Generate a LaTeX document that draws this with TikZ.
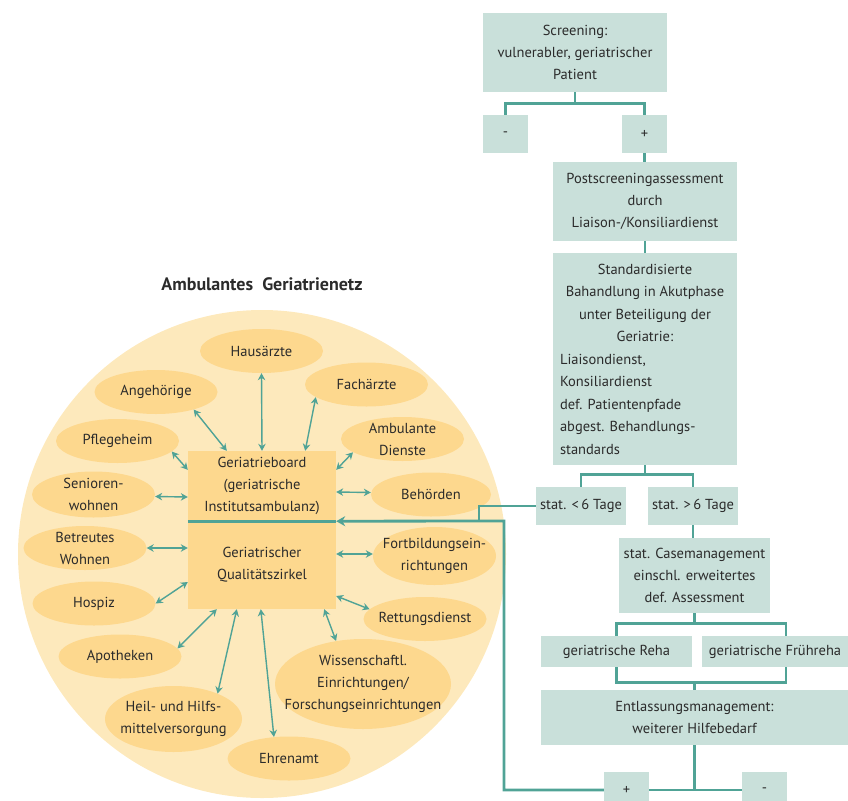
\documentclass[tikz,border=0pt]{standalone}
\usepackage{fontspec}
\setmainfont{PT Sans}
\usetikzlibrary{arrows.meta, shapes.geometric, calc}

\definecolor{netzhell}{HTML}{FDE9BC}
\definecolor{netzdunkel}{HTML}{FDD88E}
\definecolor{petrol}{HTML}{50A396}
\definecolor{mint}{HTML}{C9E0DA}
\definecolor{schrift}{HTML}{2B2B2B}

\begin{document}
\begin{tikzpicture}[
  x=1pt, y=-1pt,
  font=\fontsize{14.5}{22}\selectfont, text=schrift,
  schritt/.style={
    fill=mint, align=center, inner sep=0pt
  },
  zeichen/.style={
    fill=mint, inner sep=0pt, minimum width=45pt, minimum height=38pt
  },
  partner/.style={
    ellipse, fill=netzdunkel, align=center,
    inner xsep=-30pt, inner ysep=-8pt,
    minimum width=123pt, minimum height=44pt
  },
  zentrum/.style={
    fill=netzdunkel, align=center, inner sep=0pt, minimum width=148pt
  },
  fluss/.style={
    draw=petrol, line width=2.8pt
  },
  bezug/.style={
    {Stealth[length=7pt, width=7.5pt]}-{Stealth[length=7pt, width=7.5pt]},
    draw=petrol, line width=1.4pt
  }
]
\useasboundingbox (0,0) rectangle (848,800);

% ----- Ambulantes Geriatrienetz -----
\node[circle, fill=netzhell, inner sep=0pt, minimum size=488pt] (netz) at (262,554) {};
\node[font=\fontsize{18}{21}\selectfont\bfseries] (titel) at (262,284) {Ambulantes\ \ Geriatrienetz};

\node[zentrum, minimum height=70pt] (board) at (262,486)
  {Geriatrieboard\\(geriatrische\\Institutsambulanz)};
\node[zentrum, minimum height=88pt] (zirkel) at (262,565)
  {Geriatrischer\\Qualitätszirkel};

\node[partner] (haus)    at (261.5,351)   {Hausärzte};
\node[partner] (fach)    at (366.5,384.5) {Fachärzte};
\node[partner] (angeh)   at (156,392)     {Angehörige};
\node[partner] (pflege)  at (117.5,441)   {Pflegeheim};
\node[partner] (ambul)   at (402.5,439)   {Ambulante\\Dienste};
\node[partner, minimum height=46pt] (senior) at (93.5,494.5) {Senioren-\\wohnen};
\node[partner, minimum width=120pt] (behoerd) at (431,494.5) {Behörden};
\node[partner] (betreut) at (85,548)      {Betreutes\\Wohnen};
\node[partner, minimum height=58pt] (fortb) at (434.5,556) {Fortbildungsein-\\richtungen};
\node[partner] (hospiz)  at (94,603.5)    {Hospiz};
\node[partner] (rettung) at (425,619)     {Rettungsdienst};
\node[partner] (apoth)   at (120,656.5)   {Apotheken};
\node[partner, minimum width=137pt, minimum height=66pt] (heil) at (173.5,719)
  {Heil- und Hilfs-\\mittelversorgung};
\node[partner, minimum width=176pt, minimum height=90pt] (wiss) at (363,684)
  {Wissenschaftl.\\Einrichtungen/\\Forschungseinrichtungen};
\node[partner] (ehren)   at (289,758.5)   {Ehrenamt};

% Verbindungen zum Geriatrieboard
\draw[bezug] (haus.south) -- (board.north);
\draw[bezug] (fach.194) -- ([xshift=-31pt]board.north east);
\draw[bezug] (angeh.335) -- ([xshift=39pt]board.north west);
\draw[bezug] (pflege.349) -- ([yshift=-19pt]board.north west);
\draw[bezug] (ambul.195) -- ([yshift=-19pt]board.north east);
\draw[bezug] ([yshift=-2pt]senior.east) -- ([yshift=-11pt]board.west);
\draw[bezug] ([yshift=2pt]behoerd.west) -- ([yshift=-6pt]board.east);

% Verbindungen zum Qualitätszirkel
\draw[bezug] (betreut.east) -- ([yshift=17pt]zirkel.west);
\draw[bezug] ([yshift=2pt]fortb.west) -- ([yshift=11pt]zirkel.east);
\draw[bezug] (hospiz.east) -- ([yshift=-17pt]zirkel.west);
\draw[bezug] (rettung.170) -- ([yshift=-31pt]zirkel.east);
\draw[bezug] (apoth.8) -- ([xshift=29pt]zirkel.south west);
\draw[bezug] (heil.30) -- ([xshift=49pt]zirkel.south west);
\draw[bezug] (ehren.125) -- ([xshift=73pt]zirkel.south west);
\draw[bezug] (wiss.122) -- ([xshift=-12pt]zirkel.south east);

\draw[fluss] (board.south west) -- (board.south east);

% ----- Klinischer Pfad -----
\node[schritt, minimum width=184pt, minimum height=79pt] (screen) at (575,52.5)
  {Screening:\\vulnerabler, geriatrischer\\Patient};
\node[zeichen] (sneg) at (505.5,134) {-};
\node[zeichen] (spos) at (644.5,134) {+};
\node[schritt, minimum width=184pt, minimum height=79pt] (post) at (645,201.5)
  {Postscreeningassessment\\durch\\Liaison-/Konsiliardienst};
\node[schritt, minimum width=184pt, minimum height=212pt,
      font=\fontsize{14.5}{22.5}\selectfont] (std) at (645,359)
  {Standardisierte\\Bahandlung in Akutphase\\unter Beteiligung der\\Geriatrie:\\
   \makebox[170pt][l]{Liaisondienst,}\\
   \makebox[170pt][l]{Konsiliardienst}\\
   \makebox[170pt][l]{def. Patientenpfade}\\
   \makebox[170pt][l]{abgest. Behandlungs-}\\
   \makebox[170pt][l]{standards}};
\node[schritt, minimum width=90pt, minimum height=38pt] (kurz) at (581,506) {stat. <\,6 Tage};
\node[schritt, minimum width=90pt, minimum height=38pt] (lang) at (693,506) {stat. >\,6 Tage};
\node[schritt, minimum width=151pt, minimum height=75pt] (case) at (694.5,575.5)
  {stat. Casemanagement\\einschl. erweitertes\\def. Assessment};
\node[schritt, minimum width=151pt, minimum height=31pt] (reha) at (616.5,651.5)
  {geriatrische Reha};
\node[schritt, minimum width=146pt, minimum height=31pt] (frueh) at (775,651.5)
  {geriatrische Frühreha};
\node[schritt, minimum width=307pt, minimum height=55pt] (entl) at (694.5,717.5)
  {Entlassungsmanagement:\\weiterer Hilfebedarf};
\node[zeichen, minimum height=36pt] (epos) at (626.5,790) {+};
\node[zeichen, minimum height=36pt] (eneg) at (764.5,790) {-};

\draw[fluss] (screen.south) -- ++(0,11) -| (sneg.north);
\draw[fluss] (screen.south) ++(0,11) -| (spos.north);
\draw[fluss] (spos.south) -- (spos.south |- post.north);
\draw[fluss] (post.south) -- (post.south |- std.north);
\draw[fluss] (std.south) -- ++(0,9) -| (kurz.north);
\draw[fluss] (std.south) ++(0,9) -| (lang.north);
\draw[fluss] (lang.south) -- (lang.south |- case.north);
\draw[fluss] (case.south) -- ++(0,10) -| (reha.north);
\draw[fluss] (case.south) ++(0,10) -| ([xshift=11pt]frueh.north);
\draw[fluss] (reha.south) -- ++(0,15) coordinate (zusammen) -| ([xshift=11pt]frueh.south);
\draw[fluss] (entl.north) -- (entl.north |- zusammen);

% Rückführung ins Netz
\coordinate (ecke)  at (504,790);
\coordinate (knick) at (504,521);
\coordinate (abzweig) at (479,521);
\draw[fluss] (entl.south) -- (entl.south |- eneg.west);
\draw[fluss] (eneg.west) -- (epos.east);
\draw[fluss, -{Stealth[length=9pt, width=10pt]}] (epos.west) -- (ecke) -- (knick) -- (board.south east);
\draw[fluss] (kurz.west) -| (abzweig);

\end{tikzpicture}
\end{document}
